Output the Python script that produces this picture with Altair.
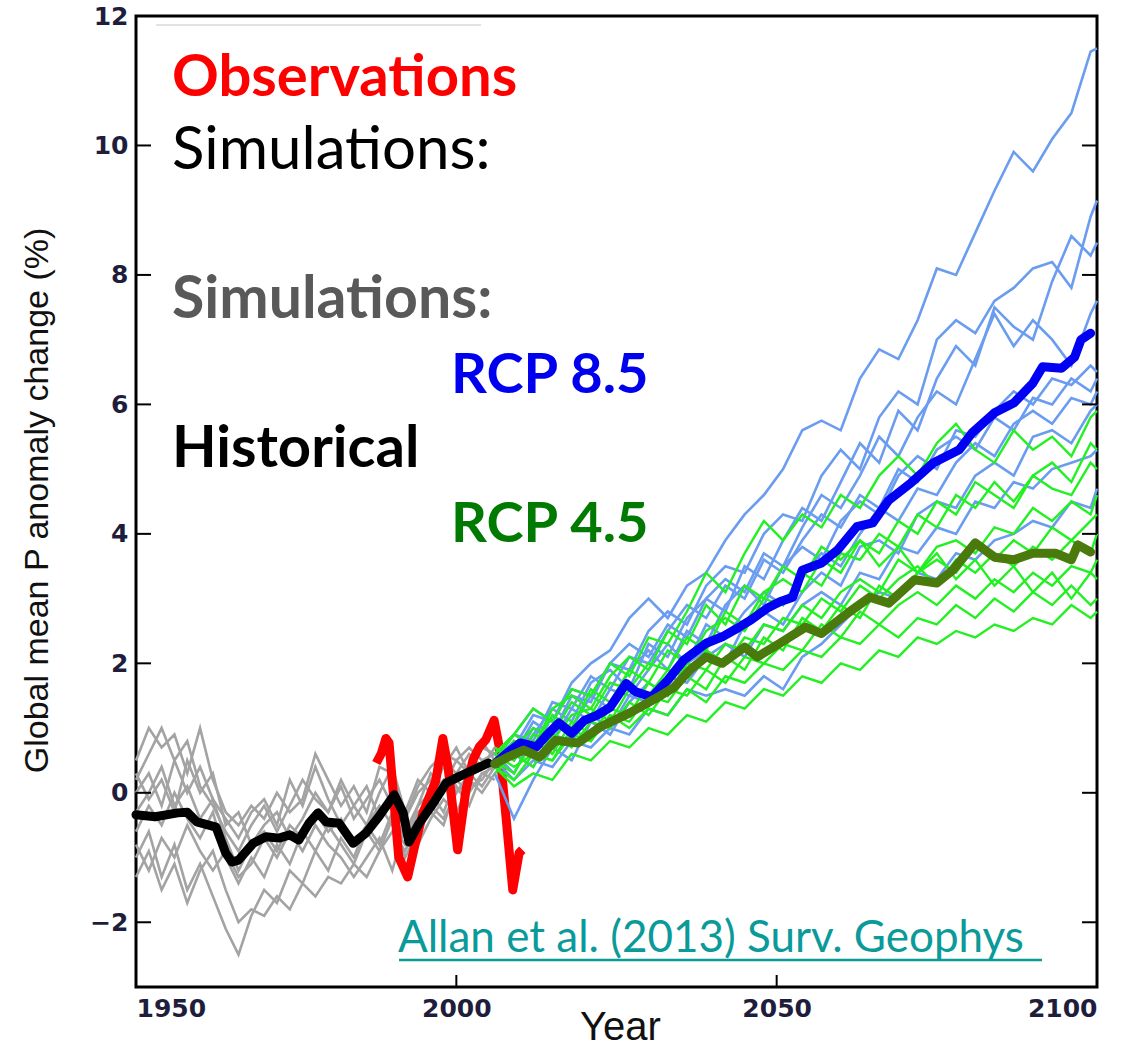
import altair as alt
import pandas as pd

# ---------------- data ----------------
hist_years = [1950, 1952, 1954, 1956, 1958, 1960, 1962, 1964, 1966, 1968, 1970, 1972, 1974, 1976, 1978,
              1980, 1982, 1984, 1986, 1988, 1990, 1992, 1994, 1996, 1998, 2000, 2002, 2004, 2006]
hist_runs = {
    "h1": [0.5, 1.0, 0.7, 0.9, 0.3, 1.0, 0.2, -0.3, -0.5, -0.2, -0.4, 0.0, -0.3, -0.1, 0.6, 0.2, -0.2, 0.1, -0.3, 0.4, 0.3, -0.4, 0.1, 0.4, 0.6, 0.5, 0.7, 0.5, 0.6],
    "h2": [0.2, 0.6, 1.0, 0.5, 0.8, 0.1, -0.2, -0.6, -0.9, -0.5, -0.2, -0.6, -0.2, 0.2, -0.1, -0.3, 0.2, -0.2, -0.5, 0.0, 0.4, -0.3, 0.2, 0.0, 0.4, 0.7, 0.3, 0.8, 0.5],
    "h3": [-0.3, 0.0, 0.4, -0.2, 0.1, -0.4, -0.1, -0.7, -1.2, -0.8, -0.6, -0.9, -0.5, -0.7, -0.3, -0.6, -0.4, -0.8, -0.5, -0.2, -0.5, -0.8, -0.3, -0.1, 0.2, 0.0, 0.3, 0.1, 0.4],
    "h4": [-0.6, -0.2, -0.5, 0.0, -0.4, -0.7, -0.3, -1.0, -1.4, -1.0, -1.3, -0.8, -1.1, -0.6, -0.9, -0.5, -0.8, -1.1, -0.6, -0.9, -0.4, -1.0, -0.6, -0.3, -0.5, 0.1, -0.2, 0.3, 0.2],
    "h5": [-1.0, -0.6, -1.3, -0.8, -1.5, -1.1, -1.6, -2.1, -2.5, -1.9, -1.5, -1.7, -1.2, -1.4, -0.9, -1.2, -0.7, -1.0, -0.5, -0.8, -0.3, -0.7, -0.2, 0.0, -0.3, 0.2, 0.0, 0.3, 0.4],
    "h6": [-1.3, -0.9, -1.5, -1.1, -1.7, -1.2, -0.9, -1.5, -2.0, -1.8, -1.9, -1.6, -1.8, -1.4, -1.6, -1.3, -1.4, -1.1, -1.3, -0.9, -0.6, -0.9, -0.5, -0.2, -0.4, 0.0, 0.2, 0.0, 0.3],
    "h7": [0.0, 0.3, -0.2, 0.5, 0.0, 0.4, -0.1, -0.4, -0.7, -0.3, -0.1, -0.5, 0.2, -0.2, 0.4, -0.1, -0.5, -0.2, 0.1, -0.4, 0.0, -0.6, -0.2, 0.3, 0.1, 0.5, 0.3, 0.7, 0.6],
    "h8": [-0.8, -1.2, -0.7, -1.0, -0.5, -0.9, -1.2, -0.9, -1.3, -1.1, -0.7, -1.0, -0.6, -0.9, -0.5, -0.8, -1.0, -1.3, -1.0, -0.7, -1.2, -0.5, -0.8, -0.4, -0.1, -0.3, 0.1, 0.2, 0.5],
    "h9": [0.3, -0.1, 0.2, -0.3, 0.5, 0.0, 0.3, -0.5, -0.3, -0.8, -0.5, -0.3, -0.7, -0.4, 0.0, -0.3, 0.1, -0.4, -0.1, 0.2, -0.2, -0.4, 0.0, 0.2, 0.5, 0.3, 0.6, 0.4, 0.7],
}

hist_mean_years = [1950, 1953, 1956.5, 1958, 1959.5, 1962.5, 1964, 1965, 1966, 1968.3,
                   1970.3, 1972.3, 1974, 1975.4, 1977, 1978.4, 1979.7, 1981.7, 1983.9, 1985.9,
                   1987.9, 1990.3, 1991.7, 1992.6, 1994.2, 1996.4, 1998.4, 2000.4, 2002.6, 2005]
hist_mean = [-0.34, -0.37, -0.31, -0.30, -0.45, -0.53, -0.93, -1.07, -1.04, -0.78,
             -0.68, -0.70, -0.65, -0.73, -0.47, -0.31, -0.45, -0.47, -0.78, -0.62,
             -0.37, -0.03, -0.31, -0.76, -0.47, -0.16, 0.15, 0.25, 0.35, 0.46]

obs_years = [1987.5, 1988.3, 1989, 1989.5, 1991, 1992.4, 1993.6, 1994.8, 1996.8, 1997.9, 1998.7,
             2000.2, 2001.5, 2002.6, 2003.6, 2004.6, 2005.9, 2006.7, 2007.8, 2008.8, 2009.8, 2010.3]
obs = [0.46, 0.61, 0.84, 0.77, -0.99, -1.30, -0.78, -0.31, 0.19, 0.84, 0.40,
       -0.88, 0.04, 0.51, 0.71, 0.82, 1.12, 0.71, -0.42, -1.50, -0.93, -0.88]

rcp_years = [2006, 2009, 2012, 2015, 2018, 2021, 2024, 2027, 2030, 2033, 2036, 2039, 2042, 2045, 2048, 2051,
             2054, 2057, 2060, 2063, 2066, 2069, 2072, 2075, 2078, 2081, 2084, 2087, 2090, 2093, 2096, 2099, 2100]
rcp85_runs = {
    "b1": [0.5, 0.9, 1.3, 1.1, 1.7, 2.0, 2.2, 2.7, 3.0, 2.7, 3.2, 3.4, 3.9, 4.3, 4.6, 5.0, 5.6, 5.75, 5.6, 6.4, 6.85, 6.7, 7.3, 8.1, 8.0, 8.65, 9.3, 9.9, 9.6, 10.1, 10.5, 11.45, 11.5],
    "b2": [0.4, 0.6, 1.1, 0.9, 1.5, 1.4, 2.0, 1.9, 2.5, 2.8, 2.6, 3.2, 3.5, 3.4, 4.0, 4.3, 4.2, 4.9, 5.3, 5.0, 5.8, 6.2, 6.0, 7.0, 7.3, 7.1, 7.6, 7.8, 8.1, 8.2, 7.8, 8.9, 9.15],
    "b3": [0.6, 0.3, 0.9, 1.3, 1.1, 1.7, 1.9, 1.6, 2.3, 2.1, 2.7, 3.0, 2.8, 3.5, 3.3, 3.9, 4.4, 4.2, 4.8, 5.4, 5.1, 5.9, 5.6, 6.4, 6.9, 6.6, 7.5, 7.2, 7.0, 7.9, 8.6, 8.3, 8.5],
    "b4": [0.5, 0.8, 0.6, 1.2, 1.0, 1.5, 1.3, 1.9, 2.2, 1.9, 2.5, 2.3, 2.9, 3.2, 2.9, 3.5, 3.8, 3.6, 4.2, 4.5, 4.3, 4.9, 5.2, 5.0, 5.6, 5.5, 5.9, 6.2, 6.0, 6.4, 6.3, 6.6, 6.5],
    "b5": [0.7, 0.5, 1.0, 0.8, 1.3, 1.1, 1.6, 1.5, 1.9, 2.3, 2.0, 2.6, 2.4, 2.8, 3.1, 2.9, 3.4, 3.7, 3.5, 4.0, 4.4, 4.2, 4.7, 4.6, 5.1, 5.4, 5.2, 5.7, 5.9, 5.7, 6.1, 6.0, 6.2],
    "b6": [0.3, -0.4, 0.2, 0.7, 0.5, 1.1, 0.9, 1.4, 1.7, 1.5, 2.0, 2.2, 2.0, 2.6, 2.8, 2.6, 3.1, 3.4, 3.2, 3.8, 3.9, 3.7, 4.3, 4.5, 4.4, 4.9, 5.1, 4.9, 5.5, 5.6, 5.4, 5.9, 6.0],
    "b7": [0.4, 0.6, 0.4, 0.9, 0.8, 1.2, 1.0, 1.5, 1.4, 1.8, 1.7, 2.1, 2.3, 2.1, 2.6, 2.5, 2.9, 3.1, 2.9, 3.4, 3.3, 3.8, 3.7, 4.1, 4.0, 4.5, 4.4, 4.8, 4.7, 5.0, 5.1, 5.2, 5.3],
    "b8": [0.5, 0.2, 0.5, 0.4, 0.8, 0.7, 1.0, 0.9, 1.3, 1.2, 1.6, 1.5, 1.6, 1.5, 1.8, 1.6, 2.1, 2.3, 2.6, 2.9, 3.1, 3.0, 3.4, 3.3, 3.7, 3.6, 3.9, 4.0, 4.2, 4.1, 4.5, 4.4, 4.7],
    "b9": [0.6, 0.9, 0.8, 1.4, 1.3, 1.8, 1.6, 2.1, 2.0, 2.5, 2.9, 2.7, 3.2, 3.0, 3.6, 3.4, 3.9, 4.3, 4.1, 4.6, 4.4, 5.0, 4.8, 5.3, 5.5, 5.3, 5.8, 5.6, 6.1, 6.0, 6.4, 6.2, 6.4],
    "b10": [0.5, 0.7, 1.2, 1.1, 1.6, 1.5, 2.0, 2.3, 2.1, 2.6, 2.4, 3.0, 3.3, 3.1, 3.7, 3.5, 4.1, 4.6, 4.4, 4.9, 5.5, 5.2, 5.8, 6.2, 6.0, 6.7, 7.4, 6.9, 7.3, 7.0, 6.6, 7.4, 7.6],
}
rcp45_runs = {
    "g1": [0.6, 0.9, 1.3, 1.1, 1.6, 1.5, 2.0, 1.8, 2.4, 2.3, 2.8, 3.4, 3.1, 3.7, 4.2, 3.9, 4.3, 4.1, 4.6, 4.4, 4.9, 5.2, 4.9, 5.4, 5.7, 5.3, 5.1, 5.6, 5.3, 5.5, 5.2, 5.8, 5.9],
    "g2": [0.4, 0.8, 0.7, 1.2, 1.0, 1.6, 1.4, 1.9, 1.7, 2.2, 2.0, 2.5, 2.7, 2.5, 3.0, 2.9, 3.4, 3.2, 3.7, 3.6, 4.0, 3.8, 4.3, 4.1, 4.6, 4.4, 4.8, 4.5, 4.9, 4.7, 4.6, 5.1, 5.0],
    "g3": [0.5, 0.3, 0.8, 0.6, 1.1, 0.9, 1.3, 1.2, 1.7, 1.5, 2.0, 1.9, 2.3, 2.2, 2.6, 2.5, 2.9, 2.7, 3.1, 3.3, 3.1, 3.6, 3.4, 3.8, 3.9, 3.7, 4.1, 4.0, 4.4, 4.2, 4.5, 4.3, 4.6],
    "g4": [0.7, 0.5, 0.9, 0.8, 1.2, 1.3, 1.1, 1.6, 1.5, 1.9, 1.8, 2.2, 2.0, 2.4, 2.3, 2.7, 2.6, 3.0, 2.8, 3.2, 3.0, 3.3, 3.5, 3.2, 3.6, 3.4, 3.7, 3.5, 3.8, 3.6, 3.9, 3.7, 4.0],
    "g5": [0.3, 0.6, 0.4, 0.9, 0.7, 1.1, 1.0, 1.4, 1.2, 1.6, 1.5, 1.9, 1.7, 2.1, 2.0, 2.3, 2.2, 2.6, 2.4, 2.8, 2.6, 2.9, 3.1, 2.9, 3.2, 3.0, 3.3, 3.1, 3.4, 3.2, 3.5, 3.4, 3.6],
    "g6": [0.4, 0.1, 0.3, 0.2, 0.6, 0.5, 0.8, 0.7, 1.0, 0.9, 1.2, 1.1, 1.4, 1.3, 1.6, 1.5, 1.8, 1.7, 2.0, 1.9, 2.2, 2.1, 2.4, 2.3, 2.5, 2.4, 2.6, 2.5, 2.7, 2.6, 2.9, 2.7, 2.8],
    "g7": [0.5, 0.9, 0.7, 1.3, 1.5, 1.3, 1.8, 2.1, 1.9, 2.5, 2.3, 2.9, 2.6, 3.2, 3.0, 3.5, 3.3, 3.8, 3.6, 3.9, 3.5, 3.8, 3.4, 3.7, 3.3, 3.6, 3.2, 3.5, 3.1, 3.4, 3.0, 3.4, 3.3],
    "g8": [0.6, 0.4, 0.6, 0.5, 0.9, 0.8, 1.2, 1.0, 1.3, 1.2, 1.6, 1.4, 1.8, 1.7, 2.0, 1.9, 2.2, 2.1, 2.4, 2.3, 2.6, 2.4, 2.7, 2.6, 2.9, 2.7, 3.0, 2.8, 3.1, 2.9, 3.2, 2.9, 3.0],
    "g9": [0.5, 0.7, 1.0, 0.9, 1.4, 1.2, 1.7, 1.6, 2.0, 1.9, 2.4, 2.2, 2.8, 2.6, 3.1, 3.3, 3.1, 3.6, 3.4, 3.9, 3.7, 4.2, 4.0, 4.5, 4.3, 4.8, 4.6, 4.4, 4.9, 5.1, 4.8, 5.4, 5.3],
    "g10": [0.4, 0.2, 0.6, 0.5, 1.0, 0.8, 1.2, 1.1, 1.5, 1.4, 1.8, 1.6, 2.1, 1.9, 2.4, 2.2, 2.7, 2.5, 2.9, 2.7, 3.2, 3.0, 3.4, 3.6, 3.4, 3.8, 3.6, 3.9, 3.7, 4.1, 3.9, 4.2, 4.3],
}

rcp85_mean_years = [2006, 2008, 2010, 2012.5, 2014, 2016, 2018, 2020, 2022, 2024,
                    2026.5, 2028, 2030.5, 2033, 2035.5, 2039, 2041.5, 2044, 2046, 2048.5,
                    2050.5, 2052.5, 2054, 2057, 2059.5, 2062.5, 2065, 2067.5, 2071, 2074.5,
                    2078.5, 2080.5, 2084, 2087, 2090, 2091.5, 2094.5, 2096.5, 2097.5, 2099]
rcp85_mean = [0.45, 0.62, 0.77, 0.71, 0.88, 1.08, 0.92, 1.12, 1.2, 1.32,
              1.69, 1.56, 1.48, 1.74, 2.05, 2.31, 2.41, 2.55, 2.67, 2.85,
              2.95, 3.02, 3.44, 3.55, 3.75, 4.11, 4.17, 4.52, 4.79, 5.1,
              5.3, 5.56, 5.87, 6.02, 6.33, 6.58, 6.56, 6.73, 7.0, 7.1]

rcp45_mean_years = [2006, 2008, 2010.5, 2013, 2015.5, 2019, 2022.5, 2027, 2031.5, 2034,
                    2036.5, 2039, 2041.5, 2045, 2047, 2050.5, 2054.5, 2057, 2061, 2064.5,
                    2067.5, 2071.5, 2075, 2077.5, 2081, 2084, 2087, 2090, 2093.5, 2096,
                    2097, 2099]
rcp45_mean = [0.45, 0.55, 0.66, 0.55, 0.81, 0.77, 1.02, 1.23, 1.48, 1.63,
              1.9, 2.1, 2.0, 2.25, 2.1, 2.31, 2.56, 2.46, 2.77, 3.02,
              2.93, 3.29, 3.24, 3.44, 3.86, 3.64, 3.6, 3.7, 3.7, 3.6,
              3.83, 3.72]

x_ticks = [1950, 2000, 2050, 2100]
y_ticks = [-2, 0, 2, 4, 6, 8, 10, 12]

# ---------------- tables ----------------
def runs_table(years, runs):
    rows = []
    for name, vals in runs.items():
        for yr, v in zip(years, vals):
            rows.append({"run": name, "year": yr, "value": v})
    return pd.DataFrame(rows)

hist_df = runs_table(hist_years, hist_runs)
r85_df = runs_table(rcp_years, rcp85_runs)
r45_df = runs_table(rcp_years, rcp45_runs)
hist_mean_df = pd.DataFrame({"year": hist_mean_years, "value": hist_mean})
obs_df = pd.DataFrame({"year": obs_years, "value": obs})
r85_mean_df = pd.DataFrame({"year": rcp85_mean_years, "value": rcp85_mean})
r45_mean_df = pd.DataFrame({"year": rcp45_mean_years, "value": rcp45_mean})
xt_df = pd.DataFrame({"year": x_ticks})
yt_df = pd.DataFrame({"value": y_ticks})

W, H = 961, 971
xscale = alt.Scale(domain=[1950, 2100], nice=False, zero=False)
yscale = alt.Scale(domain=[-3, 12], nice=False, zero=False)

tick_font = "DejaVu Sans"
tick_color = "#1e1e3c"

X = alt.X("year:Q", scale=xscale,
          axis=alt.Axis(values=x_ticks, format="d", grid=False, domain=False, ticks=False,
                        labelFont=tick_font, labelFontSize=25, labelFontWeight="bold",
                        labelColor=tick_color, labelPadding=9,
                        title="Year", titleFont="Liberation Sans",
                        titleFontSize=40, titleFontWeight="normal", titleColor="#111",
                        titleX=484, titleY=52, titleBaseline="alphabetic", titleAlign="center"))
Y = alt.Y("value:Q", scale=yscale,
          axis=alt.Axis(values=y_ticks, grid=False, domain=False, ticks=False,
                        labelFont=tick_font, labelFontSize=25, labelFontWeight="bold",
                        labelColor=tick_color, labelPadding=8,
                        title="Global mean P anomaly change (%)",
                        titleFont="Liberation Sans", titleFontSize=34, titleFontWeight="normal",
                        titleColor="#111", titleAngle=270, titleX=-99, titleY=484,
                        titleBaseline="middle", titleAlign="center"))

hist_lines = alt.Chart(hist_df).mark_line(color="#a3a3a3", strokeWidth=2.6).encode(
    x=X, y=Y, detail="run:N")
obs_line = alt.Chart(obs_df).mark_line(color="#ff0000", strokeWidth=9, strokeJoin="round").encode(x=X, y=Y)
hist_mean_line = alt.Chart(hist_mean_df).mark_line(color="#000000", strokeWidth=9, strokeJoin="round",
                                                   strokeCap="round").encode(x=X, y=Y)
r85_lines = alt.Chart(r85_df).mark_line(color="#6a9cf0", strokeWidth=2.6).encode(x=X, y=Y, detail="run:N")
r45_lines = alt.Chart(r45_df).mark_line(color="#22f022", strokeWidth=2.4).encode(x=X, y=Y, detail="run:N")
r85_mean_line = alt.Chart(r85_mean_df).mark_line(color="#0000f5", strokeWidth=9, strokeJoin="round",
                                                 strokeCap="round").encode(x=X, y=Y)
r45_mean_line = alt.Chart(r45_mean_df).mark_line(color="#4a7a0c", strokeWidth=9, strokeJoin="round",
                                                 strokeCap="round").encode(x=X, y=Y)

tick_len = 15
left_ticks = alt.Chart(yt_df).mark_rule(color="black", strokeWidth=2).encode(
    y=Y, x=alt.value(0), x2=alt.value(tick_len))
right_ticks = alt.Chart(yt_df).mark_rule(color="black", strokeWidth=2).encode(
    y=Y, x=alt.value(W - tick_len), x2=alt.value(W))
bottom_ticks = alt.Chart(xt_df).mark_rule(color="black", strokeWidth=2).encode(
    x=X, y=alt.value(H), y2=alt.value(H - 12))

# ---------------- annotations ----------------
def label(text, x, y, color, size, weight, font="Lato"):
    return alt.Chart(pd.DataFrame({"t": [text]})).mark_text(
        align="left", baseline="alphabetic", font=font, fontSize=size,
        fontWeight=weight, color=color).encode(x=alt.value(x), y=alt.value(y), text="t:N")

ann = [
    label("Observations", 36, 80, "#ff0000", 58, "bold"),
    label("Simulations:", 36, 153, "#000000", 60, "normal"),
    label("Simulations:", 36, 302, "#595959", 59, "bold"),
    label("RCP 8.5", 315, 377, "#0000ee", 56, "bold"),
    label("Historical", 36, 451, "#000000", 58, "bold"),
    label("RCP 4.5", 315, 526, "#007a00", 56, "bold"),
    label("Allan et al. (2013) Surv. Geophys", 262, 936, "#0b9a9a", 44, "normal"),
]
underline = alt.Chart(pd.DataFrame({"t": [0]})).mark_rule(color="#0b9a9a", strokeWidth=2.5).encode(
    x=alt.value(263), x2=alt.value(906), y=alt.value(944))
faint = alt.Chart(pd.DataFrame({"t": [0]})).mark_rule(color="#d8d8d8", strokeWidth=1.5).encode(
    x=alt.value(20), x2=alt.value(345), y=alt.value(9))

chart = alt.layer(
    hist_lines, obs_line, hist_mean_line, r85_lines, r45_lines, r85_mean_line, r45_mean_line,
    left_ticks, right_ticks, bottom_ticks, faint, *ann, underline
).properties(
    width=W, height=H,
    autosize=alt.AutoSizeParams(type="none"),
    padding={"left": 136, "top": 16, "right": 41, "bottom": 64},
    background="white",
).configure_view(stroke="black", strokeWidth=3)

chart.save("out.html", embed_options={"renderer": "svg", "actions": False})
